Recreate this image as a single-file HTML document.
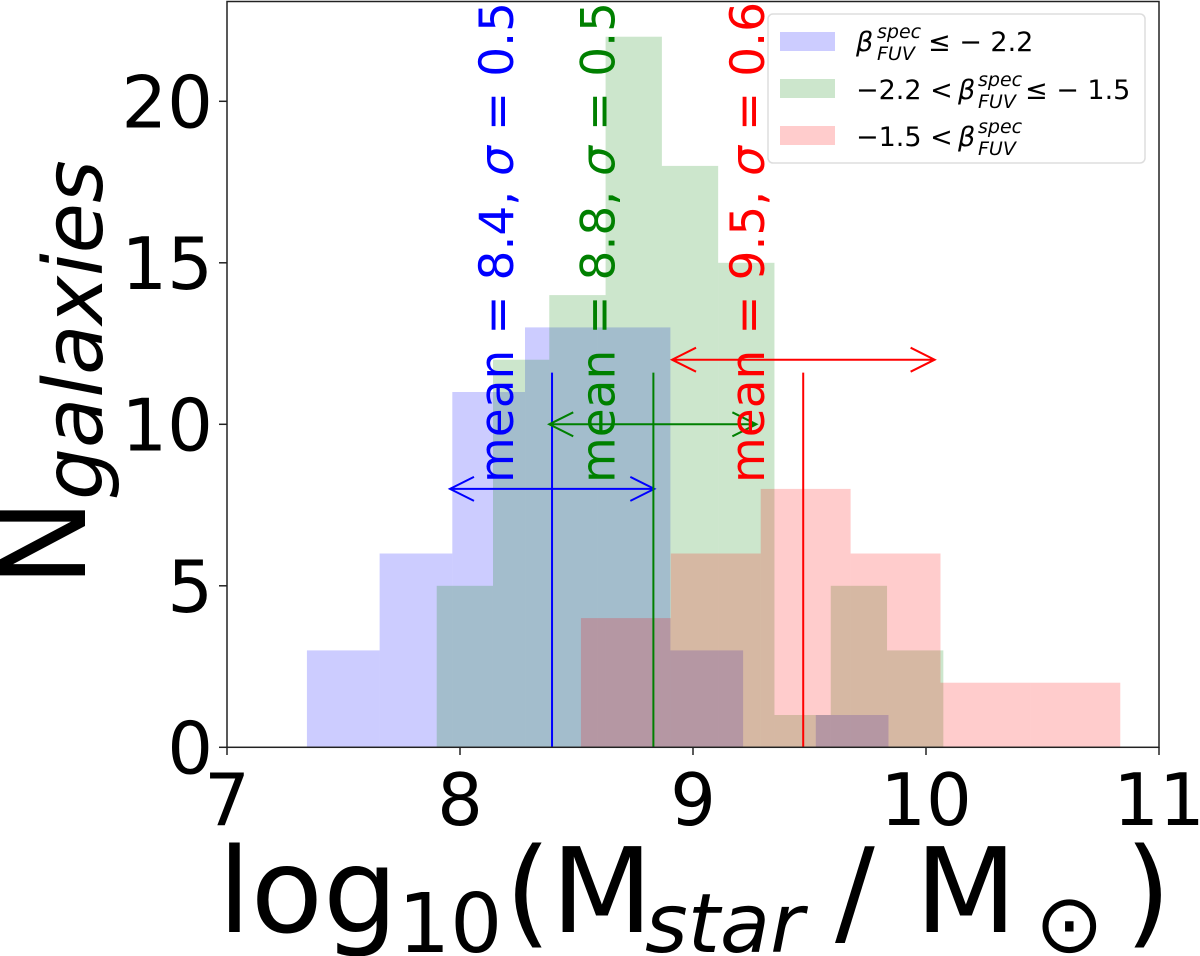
<!DOCTYPE html>
<html><head><meta charset="utf-8"><style>
html,body{margin:0;padding:0;background:#fff;}
svg{display:block;font-family:"DejaVu Sans","Liberation Sans",sans-serif;}
</style></head><body>
<svg id="chart" width="1200" height="956" viewBox="0 0 1200 956" xmlns="http://www.w3.org/2000/svg">
<g id="bars"></g>
<g id="marks"></g>
<rect x="227" y="1.5" width="932" height="745.8" fill="none" stroke="#222" stroke-width="1.5"/>
<g id="ticks"></g>
<g font-size="118" fill="#000">
<text x="218" y="932">log</text>
<text x="398" y="952" font-size="82">10</text>
<text x="505" y="932">(M</text>
<text x="645" y="952" font-size="82" font-style="italic">star</text>
<text x="835" y="932">/</text>
<text x="915" y="932">M</text>
<text x="1035" y="952" font-size="82">⊙</text>
<text x="1125" y="932">)</text>
</g>
<g fill="#000">
<text x="85" y="587" font-size="118" transform="rotate(-90 85 587)">N</text>
<text x="102" y="500" font-size="82" font-style="italic" transform="rotate(-90 102 500)">galaxies</text>
</g>
<g>
<rect x="768" y="14" width="377" height="149" rx="5" fill="#fff" fill-opacity="0.85" stroke="#ddd" stroke-width="1.5"/>
<g>
<rect x="780" y="32" width="55" height="19" fill="rgba(0,0,255,0.2)"/>
<text x="856" y="51" font-size="27" font-style="italic">β</text>
<text x="877" y="38" font-size="19" font-style="italic">spec</text>
<text x="877" y="60" font-size="19" font-style="italic">FUV</text>
<text x="928" y="51" font-size="27">≤ − 2.2</text>
</g>
<g>
<rect x="780" y="79" width="55" height="19" fill="rgba(0,128,0,0.2)"/>
<text x="856" y="99" font-size="27">−2.2 &lt;</text>
<text x="958" y="99" font-size="27" font-style="italic">β</text>
<text x="978" y="86" font-size="19" font-style="italic">spec</text>
<text x="978" y="108" font-size="19" font-style="italic">FUV</text>
<text x="1025" y="99" font-size="27">≤ − 1.5</text>
</g>
<g>
<rect x="780" y="126" width="55" height="19" fill="rgba(255,0,0,0.2)"/>
<text x="856" y="146" font-size="27">−1.5 &lt;</text>
<text x="958" y="146" font-size="27" font-style="italic">β</text>
<text x="978" y="133" font-size="19" font-style="italic">spec</text>
<text x="978" y="155" font-size="19" font-style="italic">FUV</text>
</g>
</g>
</svg>
<script>
const blueCounts = [3, 6, 11, 13, 13, 3, 0, 1];
const blueStart = 7.343, blueWidth = 0.312;
const greenCounts = [5, 12, 14, 22, 18, 15, 1, 5, 3];
const greenStart = 7.9, greenWidth = 0.2416;
const redCounts = [4, 6, 8, 6, 2, 2];
const redStart = 8.519, redWidth = 0.3858;
const means = [8.395, 8.83, 9.473];
const sigmaLo = [7.957, 8.383, 8.91];
const sigmaHi = [8.834, 9.272, 10.037];
const arrowY = [8, 10, 12];
const meanLabels = ["8.4", "8.8", "9.5"];
const sigmaLabels = ["0.5", "0.5", "0.6"];
const xTicks = [7, 8, 9, 10, 11];
const yTicks = [0, 5, 10, 15, 20];

const NS = "http://www.w3.org/2000/svg";
function X(v){ return 227 + (v - 7) * 233; }
function Y(v){ return 747.3 - v * 32.3; }
function el(tag, attrs, parent){
  const e = document.createElementNS(NS, tag);
  for (const k in attrs) e.setAttribute(k, attrs[k]);
  parent.appendChild(e); return e;
}
const bars = document.getElementById('bars');
function drawHist(counts, start, width, fill, name){
  counts.forEach((c, i) => {
    if (c <= 0) return;
    const x0 = X(start + i * width), x1 = X(start + (i + 1) * width);
    const r = el('rect', {x: x0, y: Y(c), width: x1 - x0, height: Y(0) - Y(c), fill: fill}, bars);
    
    
  });
}
drawHist(blueCounts, blueStart, blueWidth, 'rgba(0,0,255,0.2)', 'blue');
drawHist(greenCounts, greenStart, greenWidth, 'rgba(0,128,0,0.2)', 'green');
drawHist(redCounts, redStart, redWidth, 'rgba(255,0,0,0.2)', 'red');

const marks = document.getElementById('marks');
const cols = ['blue', 'green', 'red'];
means.forEach((m, i) => {
  const c = cols[i];
  const ln = el('line', {x1: X(m), x2: X(m), y1: Y(0), y2: Y(11.6), stroke: c, 'stroke-width': 2}, marks);
  
  
  const y = Y(arrowY[i]), a = X(sigmaLo[i]), b = X(sigmaHi[i]);
  const p = el('path', {d: `M${a},${y}H${b}M${a+24},${y-12}L${a},${y}L${a+24},${y+12}M${b-24},${y-12}L${b},${y}L${b-24},${y+12}`, stroke: c, 'stroke-width': 2, fill: 'none'}, marks);
  
  
  const tx = X(m) - 39, ty = 483;
  const t = el('text', {x: tx, y: ty, fill: c, 'font-size': 47, transform: `rotate(-90 ${tx} ${ty})`}, marks);
  
  
  t.appendChild(document.createTextNode('mean = ' + meanLabels[i] + ', '));
  const s = el('tspan', {'font-style': 'italic'}, t);
  s.textContent = 'σ';
  t.appendChild(document.createTextNode(' = ' + sigmaLabels[i]));
});

const ticks = document.getElementById('ticks');
xTicks.forEach(v => {
  el('line', {x1: X(v), x2: X(v), y1: 747.3, y2: 755, stroke: '#222', 'stroke-width': 1.5}, ticks);
  const t = el('text', {x: X(v), y: 825, 'text-anchor': 'middle', 'font-size': 72}, ticks);
  
  
  t.textContent = v;
});
yTicks.forEach(v => {
  el('line', {x1: 219, x2: 227, y1: Y(v), y2: Y(v), stroke: '#222', 'stroke-width': 1.5}, ticks);
  const t = el('text', {x: 213, y: Y(v) + 26, 'text-anchor': 'end', 'font-size': 72}, ticks);
  
  
  t.textContent = v;
});
</script>
</body></html>
